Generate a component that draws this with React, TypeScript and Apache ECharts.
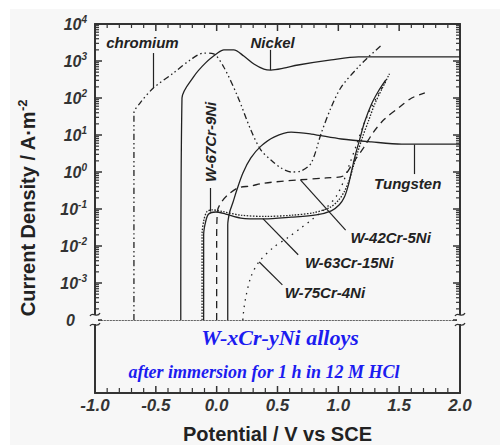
import React, { useEffect, useRef } from "react";
import * as echarts from "echarts";

// Current below this level is plotted on the "0" line of the log axis.
const ZERO_LEVEL = 1e-4;

// Potential (V vs SCE) and current density (A·m^-2) for each polarisation curve.
const chromiumV = [-0.68, -0.68, -0.63, -0.52, -0.355, -0.215, -0.107, -0.025, 0.058, 0.174, 0.281, 0.364, 0.446, 0.529, 0.612, 0.694, 0.777, 0.86, 0.942, 1.025, 1.165, 1.248, 1.347];
const chromiumI = [0, 39, 73, 186, 474, 1080, 1640, 1550, 690, 107, 13.6, 3.9, 2.1, 1.28, 1.0, 1.07, 1.75, 11.3, 57, 200, 690, 1290, 2540];

const nickelV = [-0.295, -0.285, -0.19, -0.091, 0.008, 0.058, 0.14, 0.223, 0.306, 0.388, 0.446, 0.55, 0.669, 0.942, 1.165, 1.5, 2.0];
const nickelI = [0, 100, 373, 890, 1640, 2000, 2000, 1360, 830, 605, 570, 640, 780, 1070, 1290, 1290, 1290];

const tungstenV = [0.091, 0.091, 0.107, 0.132, 0.165, 0.215, 0.281, 0.364, 0.471, 0.612, 0.777, 1.025, 1.273, 1.52, 2.0];
const tungstenI = [0, 0.037, 0.083, 0.145, 0.32, 0.93, 2.4, 5.0, 8.8, 12, 10.6, 7.8, 6.5, 5.7, 5.7];

const w63V = [-0.107, -0.107, -0.091, -0.066, -0.008, 0.074, 0.198, 0.388, 0.612, 0.818, 0.942, 1.008, 1.05, 1.083, 1.107, 1.14, 1.174, 1.215, 1.273, 1.33, 1.39];
const w63I = [0, 0.02, 0.045, 0.073, 0.083, 0.073, 0.057, 0.054, 0.06, 0.069, 0.089, 0.13, 0.21, 0.45, 1.0, 2.9, 7.3, 22, 69, 155, 310];

const w67V = [-0.12, -0.12, -0.105, -0.08, -0.04, 0.05, 0.2, 0.4, 0.62, 0.8, 0.93, 1.0, 1.05, 1.09, 1.12, 1.16, 1.2, 1.25, 1.3, 1.36, 1.42];
const w67I = [0, 0.02, 0.05, 0.085, 0.095, 0.085, 0.068, 0.063, 0.068, 0.08, 0.11, 0.17, 0.3, 0.6, 1.3, 3.5, 9, 25, 70, 180, 450];

const w75V = [0.215, 0.223, 0.24, 0.281, 0.347, 0.471, 0.587, 0.694, 0.777, 0.9, 0.983, 1.041, 1.09, 1.149, 1.207, 1.273, 1.339, 1.405];
const w75I = [0, 1.9e-4, 4.2e-4, 1.45e-3, 3.7e-3, 9.4e-3, 0.017, 0.031, 0.05, 0.107, 0.22, 0.54, 1.55, 5.4, 18.6, 57, 145, 347];

const w42V = [0.0, 0.0, 0.008, 0.041, 0.091, 0.174, 0.281, 0.388, 0.669, 0.9, 1.041, 1.124, 1.207, 1.289, 1.38, 1.504, 1.603, 1.711];
const w42I = [0, 0.0145, 0.093, 0.155, 0.24, 0.37, 0.42, 0.5, 0.61, 0.69, 0.78, 1.86, 4.5, 12, 27, 57, 100, 137];

// Curve labels: text, anchor [V, I], rotation in degrees.
const noteTexts = ["chromium", "Nickel", "Tungsten", "W-42Cr-5Ni", "W-63Cr-15Ni", "W-75Cr-4Ni", "W-67Cr-9Ni"];
const noteAnchors = [[-0.61, 3100], [0.46, 3250], [1.57, 0.5], [1.43, 0.0174], [1.09, 0.0035], [0.89, 5.7e-4], [-0.053, 6.5]];
const noteRotations = [0, 0, 0, 0, 0, 0, 90];

// Arrows from each label to its curve: [fromV, fromI, toV, toI].
const arrows = [
  [-0.52, 1640, -0.52, 186],
  [0.44, 2000, 0.44, 570],
  [1.62, 0.88, 1.62, 5.5],
  [1.06, 0.027, 0.69, 0.6],
  [0.67, 0.0058, 0.38, 0.055],
  [0.54, 0.00089, 0.35, 0.0037],
  [-0.053, 0.37, -0.053, 0.085],
];

const xMin = -1.0;
const xMax = 2.0;
const yMin = ZERO_LEVEL;
const yMax = 1e4;

// Tick positions of the frame.
const xTickValues = [-1.0, -0.9, -0.8, -0.7, -0.6, -0.5, -0.4, -0.3, -0.2, -0.1, 0.0, 0.1, 0.2, 0.3, 0.4, 0.5, 0.6, 0.7, 0.8, 0.9, 1.0, 1.1, 1.2, 1.3, 1.4, 1.5, 1.6, 1.7, 1.8, 1.9, 2.0];
const logDecades = [1e-4, 1e-3, 1e-2, 1e-1, 1, 10, 100, 1000, 10000];
const logMinorFactors = [2, 3, 4, 5, 6, 7, 8, 9];

const SANS = "'Liberation Sans', Arial, Helvetica, sans-serif";
const SERIF = "'Liberation Serif', 'Times New Roman', serif";
const INK = "#222";
const FRAME = "#333";
const PAPER = "#f7f7f7";

// Plot geometry (pixels)
const GRID_LEFT = 95;
const GRID_WIDTH = 365;
const TOP = 24;
const LOG_HEIGHT = 296;
const ZERO_BAND = 73;
const BOTTOM = TOP + LOG_HEIGHT + ZERO_BAND;

const pairs = (v: number[], i: number[]) =>
  v.map((x, k) => [x, i[k] === 0 ? ZERO_LEVEL : i[k]]);

const curve = (name: string, v: number[], i: number[], dash: any) => ({
  name,
  type: "line",
  xAxisIndex: 0,
  yAxisIndex: 0,
  data: pairs(v, i),
  smooth: 0.3,
  showSymbol: false,
  symbol: "none",
  silent: true,
  lineStyle: { color: INK, width: 1.3, type: dash },
});

const logTickValues: number[] = [];
logDecades.forEach((d, k) => {
  logTickValues.push(d);
  if (k < logDecades.length - 1) logMinorFactors.forEach((f) => logTickValues.push(f * d));
});

const isHalf = (x: number) => Math.abs(x * 2 - Math.round(x * 2)) < 1e-6;
const isDecade = (v: number) => Math.abs(Math.log10(v) - Math.round(Math.log10(v))) < 1e-6;

// Frame geometry used for the inward tick marks (same mapping as the grids).
const xPx = (x: number) => GRID_LEFT + ((x - xMin) / (xMax - xMin)) * GRID_WIDTH;
const yPx = (v: number) =>
  TOP + ((Math.log10(yMax) - Math.log10(v)) / (Math.log10(yMax) - Math.log10(yMin))) * LOG_HEIGHT;

const tickRect = (x: number, y: number, w: number, h: number) => ({
  type: "rect",
  silent: true,
  z: 12,
  shape: { x, y, width: w, height: h },
  style: { fill: FRAME },
});

const frameTicks: any[] = [
  ...xTickValues.flatMap((x) => {
    const major = isHalf(x);
    const px = xPx(x);
    const w = major ? 1.5 : 1.2;
    return [
      tickRect(px - w / 2, TOP, w, major ? 7 : 4),
      tickRect(px - w / 2, BOTTOM - (major ? 7 : 5), w, major ? 7 : 5),
    ];
  }),
  ...logTickValues.flatMap((v) => {
    const major = isDecade(v);
    const py = yPx(v);
    const h = major ? 1.5 : 1.2;
    const len = major ? 7 : 4;
    return [
      tickRect(GRID_LEFT, py - h / 2, len, h),
      tickRect(GRID_LEFT + GRID_WIDTH - len, py - h / 2, len, h),
    ];
  }),
];

const baseLabel = {
  fontFamily: SANS,
  fontWeight: "bold" as const,
  fontStyle: "italic" as const,
  color: FRAME,
};

const frameAxis = { show: true, onZero: false, lineStyle: { color: FRAME, width: 2 } };

const graphics: any[] = [
  // axis title on the left, centred on the whole frame
  {
    type: "text",
    x: 28,
    y: 208,
    rotation: Math.PI / 2,
    silent: true,
    style: {
      text: "{a|Current Density / A·m}{s|-2}",
      align: "center",
      verticalAlign: "middle",
      rich: {
        a: { fontFamily: SANS, fontSize: 20, fontWeight: "bold", fill: INK, lineHeight: 24 },
        s: { fontFamily: SANS, fontSize: 13, fontWeight: "bold", fill: INK, lineHeight: 12, verticalAlign: "top" },
      },
    },
  },
  ...frameTicks,
  // axis break marks where the log scale meets the "0" line
  ...[GRID_LEFT, GRID_LEFT + GRID_WIDTH].flatMap((ax) => {
    const y0 = TOP + LOG_HEIGHT;
    return [
      { type: "rect", silent: true, z: 13, shape: { x: ax - 3, y: y0 - 5, width: 6, height: 9 }, style: { fill: PAPER } },
      { type: "bezierCurve", silent: true, z: 14, shape: { x1: ax - 5, y1: y0 - 4, cpx1: ax - 2, cpy1: y0 - 9, cpx2: ax + 2, cpy2: y0 - 1, x2: ax + 5, y2: y0 - 7 }, style: { stroke: FRAME, lineWidth: 1.3, fill: "none" } },
      { type: "bezierCurve", silent: true, z: 14, shape: { x1: ax - 5, y1: y0 + 6, cpx1: ax - 2, cpy1: y0 + 1, cpx2: ax + 2, cpy2: y0 + 9, x2: ax + 5, y2: y0 + 3 }, style: { stroke: FRAME, lineWidth: 1.3, fill: "none" } },
    ];
  }),
  {
    type: "text",
    x: 280,
    y: 337,
    silent: true,
    style: {
      text: "W-xCr-yNi alloys",
      fontFamily: SERIF,
      fontSize: 22,
      fontWeight: "bold",
      fontStyle: "italic",
      fill: "#1c1cf0",
      align: "center",
      verticalAlign: "middle",
    },
  },
  {
    type: "text",
    x: 264,
    y: 372,
    silent: true,
    style: {
      text: "after immersion for 1 h in 12 M HCl",
      fontFamily: SERIF,
      fontSize: 18,
      fontWeight: "bold",
      fontStyle: "italic",
      fill: "#1c1cf0",
      align: "center",
      verticalAlign: "middle",
    },
  },
];

const option: any = {
  animation: false,
  backgroundColor: "transparent",
  textStyle: { fontFamily: SANS },
  grid: [
    { left: GRID_LEFT, width: GRID_WIDTH, top: TOP, height: LOG_HEIGHT },
    { left: GRID_LEFT, width: GRID_WIDTH, top: TOP + LOG_HEIGHT, height: ZERO_BAND },
  ],
  xAxis: [
    {
      gridIndex: 0,
      type: "value",
      position: "top",
      min: xMin,
      max: xMax,
      interval: 0.5,
      axisLine: frameAxis,
      axisTick: { show: false },
      axisLabel: { show: false },
      splitLine: { show: false },
    },
    {
      gridIndex: 0,
      type: "value",
      position: "bottom",
      min: xMin,
      max: xMax,
      axisLine: { show: true, onZero: false, lineStyle: { color: "#666", width: 1, type: [1.5, 1.5] } },
      axisTick: { show: false },
      axisLabel: { show: false },
      splitLine: { show: false },
    },
    {
      gridIndex: 1,
      type: "value",
      position: "bottom",
      min: xMin,
      max: xMax,
      interval: 0.5,
      axisLine: frameAxis,
      axisTick: { show: false },
      axisLabel: {
        ...baseLabel,
        fontSize: 17,
        margin: 4,
        formatter: (v: number) => v.toFixed(1),
      },
      splitLine: { show: false },
      name: "Potential / V vs SCE",
      nameLocation: "middle",
      nameGap: 31,
      nameTextStyle: { fontFamily: SANS, fontSize: 20, fontWeight: "bold", color: INK },
    },
  ],
  yAxis: [
    {
      gridIndex: 0,
      type: "log",
      logBase: 10,
      position: "left",
      min: yMin,
      max: yMax,
      splitNumber: 8,
      axisLine: frameAxis,
      axisTick: { show: false },
      splitLine: { show: false },
      axisLabel: {
        margin: 8,
        formatter: (v: number) => {
          const e = Math.round(Math.log10(v));
          if (e === -4) return "{z|0}";
          return `{b|10}{s|${e}}`;
        },
        rich: {
          b: { ...baseLabel, fontSize: 16, lineHeight: 20 },
          s: { ...baseLabel, fontSize: 10, lineHeight: 9, verticalAlign: "top" },
          z: { ...baseLabel, fontSize: 16, lineHeight: 20, padding: [0, 12, 0, 0] },
        },
      },
    },
    {
      gridIndex: 0,
      type: "log",
      logBase: 10,
      position: "right",
      min: yMin,
      max: yMax,
      splitNumber: 8,
      axisLine: frameAxis,
      axisTick: { show: false },
      splitLine: { show: false },
      axisLabel: { show: false },
    },
    {
      gridIndex: 1,
      type: "value",
      position: "left",
      min: 0,
      max: 1,
      axisLine: frameAxis,
      axisTick: { show: false },
      axisLabel: { show: false },
      splitLine: { show: false },
    },
    {
      gridIndex: 1,
      type: "value",
      position: "right",
      min: 0,
      max: 1,
      axisLine: frameAxis,
      axisTick: { show: false },
      axisLabel: { show: false },
      splitLine: { show: false },
    },
  ],
  series: [
    curve("chromium", chromiumV, chromiumI, [6, 3, 1.5, 3, 1.5, 3]),
    curve("Nickel", nickelV, nickelI, "solid"),
    curve("Tungsten", tungstenV, tungstenI, "solid"),
    curve("W-63Cr-15Ni", w63V, w63I, "solid"),
    curve("W-67Cr-9Ni", w67V, w67I, [1.5, 1.5]),
    curve("W-75Cr-4Ni", w75V, w75I, [1.5, 5]),
    curve("W-42Cr-5Ni", w42V, w42I, [7, 5]),
    {
      name: "labels",
      type: "line",
      xAxisIndex: 0,
      yAxisIndex: 0,
      data: [[0, 1]],
      showSymbol: false,
      symbol: "none",
      silent: true,
      lineStyle: { opacity: 0 },
      markLine: {
        silent: true,
        symbol: ["none", "arrow"],
        symbolSize: [0, 9],
        label: { show: false },
        lineStyle: { color: INK, width: 1.2, type: "solid" },
        emphasis: { disabled: true },
        data: arrows.map((a) => [{ coord: [a[0], a[1]] }, { coord: [a[2], a[3]] }]),
      },
      markPoint: {
        silent: true,
        symbol: "circle",
        symbolSize: 0,
        data: noteTexts.map((t, k) => ({
          coord: noteAnchors[k],
          value: t,
          label: {
            show: true,
            position: "inside",
            formatter: t,
            rotate: noteRotations[k],
            ...baseLabel,
            color: INK,
            fontSize: 15,
          },
        })),
      },
    },
  ],
  graphic: graphics,
};

export default function App() {
  const ref = useRef<HTMLDivElement>(null);
  useEffect(() => {
    if (!ref.current) return;
    const chart = echarts.init(ref.current, null, { renderer: "svg" });
    chart.setOption(option);
    return () => chart.dispose();
  }, []);
  return (
    <div style={{ position: "fixed", left: 0, top: 0, width: 500, height: 445, background: "#fff" }}>
      <div style={{ position: "absolute", left: 10, top: 9, width: 490, height: 436, background: PAPER }} />
      <div ref={ref} style={{ position: "absolute", left: 0, top: 0, width: 500, height: 445 }} />
    </div>
  );
}
